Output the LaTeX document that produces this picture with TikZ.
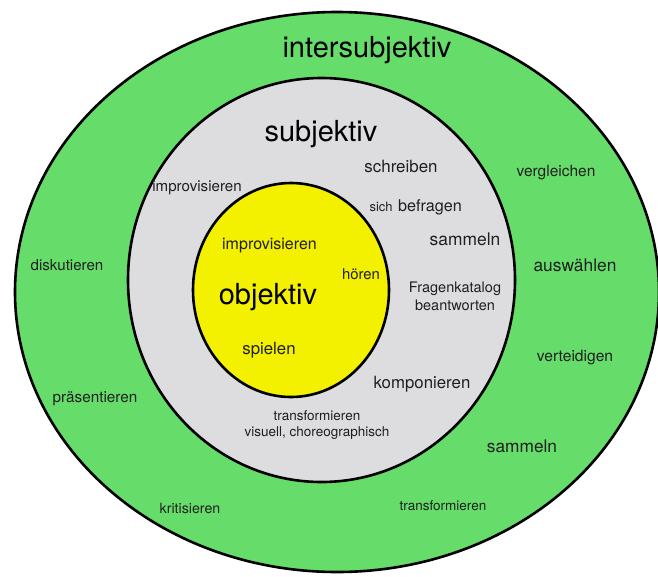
\documentclass[tikz,border=0pt]{standalone}
\usepackage{fontspec}
\setmainfont{TeX Gyre Heros}
\usepackage{tikz}
\usetikzlibrary{positioning}
\usepackage{xcolor}
\definecolor{ringgreen}{RGB}{102,221,106}
\definecolor{ringgray}{RGB}{221,221,223}
\definecolor{coreyellow}{RGB}{243,240,0}
\colorlet{wordcol}{black!88}
\tikzstyle{ring}=[draw=black, line width=2.6pt]
\def\titlesize{29}

\begin{document}
\begin{tikzpicture}[
	x=1pt, y=-1pt,
	title/.style={font=\fontsize{\titlesize}{34}\selectfont, inner sep=0},
	verb/.style={font=\fontsize{#1}{18}\selectfont, inner sep=0, align=center, text=wordcol},
	]
	
	\useasboundingbox (0,0) rectangle (658,576);
	
	\coordinate (inter) at (337,292);
	\coordinate (subj) at (321.5,280);
	\coordinate (obj) at (291,290);
	
	\draw[ring, fill=ringgreen] (inter) ellipse [x radius=322pt, y radius=280pt];
	\draw[ring, fill=ringgray] (subj) ellipse [x radius=193.5pt, y radius=202pt];
	\draw[ring, fill=coreyellow] (obj) ellipse [x radius=98pt, y radius=107pt];
	
	% intersubjektiv
	\node[title] (t-inter) at (367,50) {intersubjektiv};
	\node[verb=15.1] (diskutieren) at (67,265) {diskutieren};
	\node[verb=15.3] (praesentieren) at (95,399) {präsentieren};
	\node[verb=14.2] (kritisieren) at (190,508) {kritisieren};
	\node[verb=13.5] (transform-g) at (443,506) {transformieren};
	\node[verb=17.3] (sammeln-g) at (522,446) {sammeln};
	\node[verb=15.6] (verteidigen) at (575,358) {verteidigen};
	\node[verb=17.4] (auswaehlen) at (575,265) {auswählen};
	\node[verb=15.5] (vergleichen) at (556,173) {vergleichen};
	
	% subjektiv
	\node[title] (t-subj) at (321,134) {subjektiv};
	\node[verb=15.1] (improv-s) at (197,188) {improvisieren};
	\node[verb=16.9] (schreiben) at (401,166) {schreiben};
	\node[verb=16.2] (befragen) at (430,207) {befragen};
	\node[verb=13, anchor=base east] (sich) at ([xshift=-5pt]befragen.base west) {sich};
	\node[verb=17.4] (sammeln-s) at (465,239) {sammeln};
	\node[verb=14.5] (fragen) at (455,296) {Fragenkatalog\\beantworten};
	\node[verb=16.8] (komponieren) at (422,384) {komponieren};
	\node[verb=13.5] (transform-s) at (317,425) {transformieren\\[-2pt]visuell, choreographisch};
	
	% objektiv
	\node[title] (t-obj) at (268,297) {objektiv};
	\node[verb=16] (improv-o) at (269.5,246) {improvisieren};
	\node[verb=14.9] (hoeren) at (361,274) {hören};
	\node[verb=16.8] (spielen) at (269,350) {spielen};
	
\end{tikzpicture}
\end{document}
